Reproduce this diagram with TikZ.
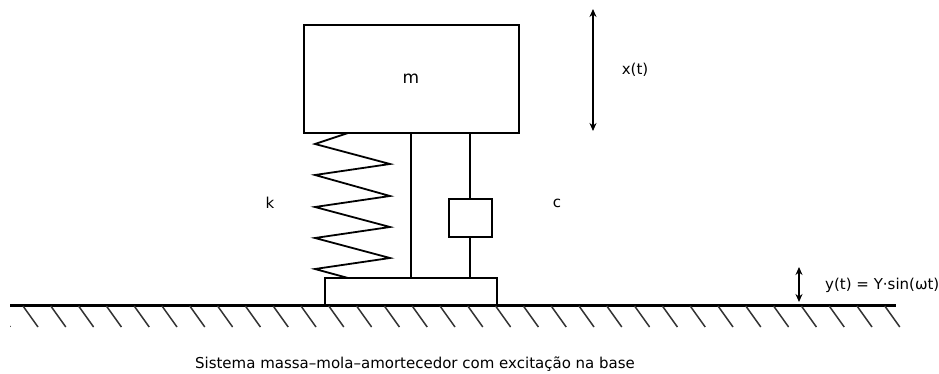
\documentclass[tikz,border=0pt]{standalone}
\usepackage{fontspec}
\setmainfont{DejaVu Sans}
\usetikzlibrary{arrows.meta}
\begin{document}
\begin{tikzpicture}[x=1pt,y=-1pt,
  ln/.style={line width=1.8pt,black},
  hatchln/.style={line width=1.5pt,black!80},
  lbl/.style={font=\fontsize{15}{18}\selectfont,inner sep=0pt},
  dbl/.style={line width=1.8pt,{Stealth[length=8pt,width=7pt]}-{Stealth[length=8pt,width=7pt]}}]
\useasboundingbox (0,0) rectangle (939,374);
% mass
\node[ln,draw,minimum width=215pt,minimum height=108pt,inner sep=0pt] (mass) at (411.5,79) {};
\node[lbl,font=\fontsize{17}{20}\selectfont] (mlab) at (411,79) {m};
% base block
\node[ln,draw,minimum width=172pt,minimum height=27pt,inner sep=0pt] (base) at (411,291.5) {};
% damper box
\node[ln,draw,minimum width=43pt,minimum height=38pt,inner sep=0pt] (damp) at (470.5,218) {};
% spring
\coordinate (s0) at (348,133);
\coordinate (s1) at (348,278);
\draw[ln,line join=miter] (s0) -- (315,144) -- (390,164) -- (315,175) -- (390,196) -- (315,207) -- (390,227) -- (315,238) -- (390,258) -- (315,269) -- (s1);
% rod
\coordinate (r0) at (411,133);
\coordinate (r1) at (411,278);
\draw[ln] (r0) -- (r1);
% damper rods
\coordinate (d0) at (470,133);
\coordinate (d1) at (470,278);
\draw[ln] (d0) -- (damp.north -| d0);
\draw[ln] (damp.south -| d1) -- (d1);
% ground
\coordinate (g0) at (10,305.5);
\coordinate (g1) at (896,305.5);
\draw[ln,line width=2.2pt] (g0) -- (g1);
\begin{scope}
\clip (10,300) rectangle (939,340);
\foreach \i in {-1,...,31} {
  \draw[hatchln] (23+27.8*\i,306) -- (38+27.8*\i,327);
}
\end{scope}
% labels
\node[lbl] (klab) at (270,203) {k};
\node[lbl] (clab) at (557,203) {c};
% x(t)
\coordinate (x0) at (593,9);
\coordinate (x1) at (593,131);
\draw[dbl] (x0) -- (x1);
\node[lbl] (xlab) at (635,70) {x(t)};
% y(t)
\coordinate (y0) at (799,267);
\coordinate (y1) at (799,302);
\draw[dbl] (y0) -- (y1);
\node[lbl,anchor=west] (ylab) at (825,285) {y(t) = Y·sin(ωt)};
% caption
\node[lbl] (cap) at (415,364) {Sistema massa–mola–amortecedor com excitação na base};
\end{tikzpicture}
\end{document}
